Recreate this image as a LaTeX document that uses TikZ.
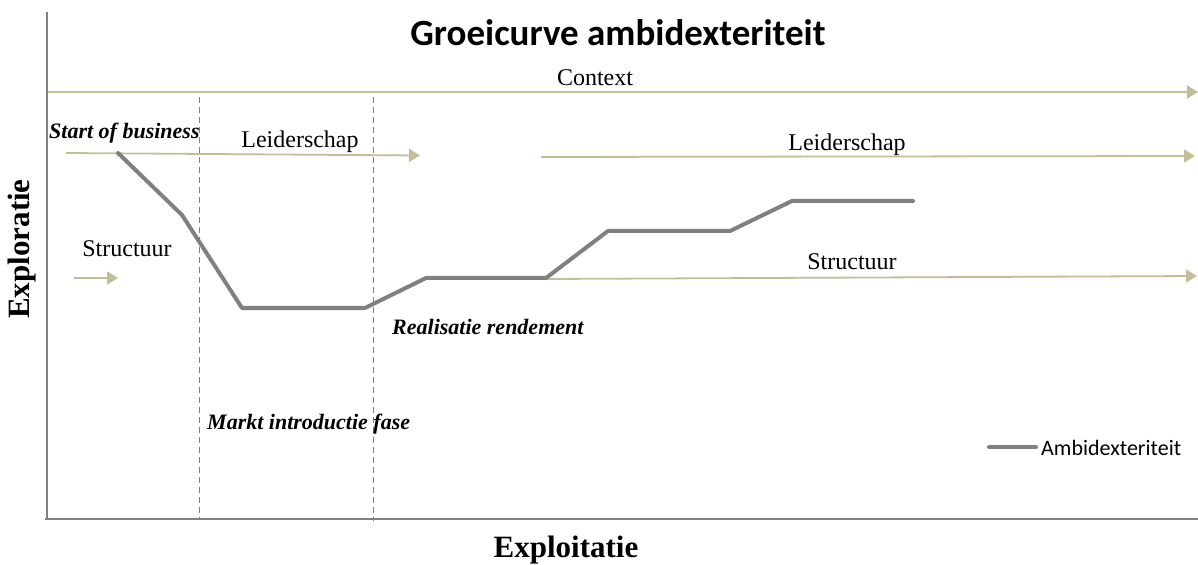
\documentclass[tikz,border=0pt]{standalone}
\usepackage{fontspec}
\setmainfont{Liberation Serif}
\newfontfamily\calfont[Ligatures=NoCommon]{Carlito}
\usetikzlibrary{arrows.meta}
\definecolor{axisgray}{HTML}{808080}
\definecolor{tanline}{HTML}{C4BD97}
\begin{document}
\begin{tikzpicture}[x=1bp,y=-1bp,
  axisline/.style={draw=axisgray,line width=2.6bp},
  phase/.style={draw=axisgray,line width=0.9bp,dash pattern=on 6bp off 4bp},
  force/.style={draw=tanline,line width=1.8bp,-{Triangle[length=11bp,width=13bp]}},
  curve/.style={draw=axisgray,line width=4bp,line join=round,line cap=round},
  lbl/.style={inner sep=0pt,anchor=base,font=\fontsize{24bp}{28bp}\selectfont},
  phaselbl/.style={inner sep=0pt,anchor=base west,font=\fontsize{22bp}{26bp}\selectfont\bfseries\itshape},
  axislbl/.style={inner sep=0pt,font=\fontsize{31bp}{36bp}\selectfont\bfseries}]
\useasboundingbox (0,0) rectangle (1198,565);

% axes
\coordinate (ytop) at (47,12);
\coordinate (ybot) at (47,519);
\coordinate (xleft) at (45,519);
\coordinate (xright) at (1198,519);
\draw[axisline] (ytop) -- (ybot);
\draw[axisline] (xleft) -- (xright);

% title
\node[inner sep=0pt,anchor=base,font=\calfont\fontsize{37bp}{42bp}\selectfont\bfseries] (title) at (618,46) {Groeicurve ambidexteriteit};

% phase separators
\coordinate (d1top) at (199,97);
\coordinate (d1bot) at (199,518);
\coordinate (d2top) at (373,97);
\coordinate (d2bot) at (373,521);
\draw[phase] (d1top) -- (d1bot);
\draw[phase] (d2top) -- (d2bot);

% context, leadership and structure arrows
\coordinate (ctxs) at (48,92);
\coordinate (ctxe) at (1198,92);
\draw[force] (ctxs) -- (ctxe);
\node[lbl] (ctx) at (595,86) {Context};

\coordinate (l1s) at (66,153);
\coordinate (l1e) at (420,155.5);
\draw[force] (l1s) -- (l1e);
\node[lbl] (lead1) at (300,148) {Leiderschap};

\coordinate (l2s) at (541,157);
\coordinate (l2e) at (1195,156);
\draw[force] (l2s) -- (l2e);
\node[lbl] (lead2) at (847,151) {Leiderschap};

\coordinate (s1s) at (74,278);
\coordinate (s1e) at (118,278);
\draw[force] (s1s) -- (s1e);
\node[lbl] (struct1) at (127,257) {Structuur};

\coordinate (s2s) at (546,279);
\coordinate (s2e) at (1197,276);
\draw[force] (s2s) -- (s2e);
\node[lbl] (struct2) at (852,270) {Structuur};

% growth curve
\draw[curve] (118,153) -- (182,215) -- (242,308) -- (365,308) -- (426,278)
  -- (546,278) -- (608,231) -- (730,231) -- (792,201) -- (913,201);

% phase labels
\node[phaselbl] (start) at (49,139) {Start of business};
\node[phaselbl] (real) at (392,335) {Realisatie rendement};
\node[phaselbl] (markt) at (207,429) {Markt introductie fase};

% axis labels
\node[axislbl,rotate=90] (yl) at (22,249) {Exploratie};
\node[axislbl,anchor=base] (xl) at (566,557) {Exploitatie};

% legend
\coordinate (lg1) at (989,447);
\coordinate (lg2) at (1036,447);
\draw[curve] (lg1) -- (lg2);
\node[inner sep=0pt,anchor=base west,font=\calfont\fontsize{22bp}{26bp}\selectfont] (legend) at (1041,455) {Ambidexteriteit};
\end{tikzpicture}
\end{document}
